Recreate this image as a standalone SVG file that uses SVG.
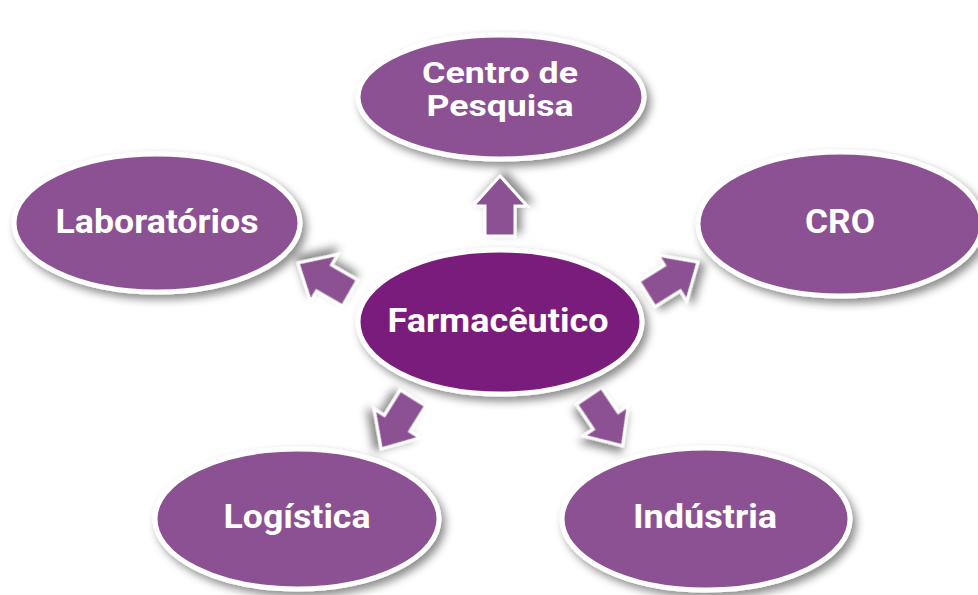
<svg xmlns="http://www.w3.org/2000/svg" width="978" height="595" viewBox="0 0 978 595">
<defs>
<filter id="sh" x="-20%" y="-20%" width="150%" height="150%">
<feDropShadow dx="4" dy="5" stdDeviation="4" flood-color="#000" flood-opacity="0.45"/>
</filter>
<style>
.n{fill:#8c5192;stroke:#fff;stroke-width:5;filter:url(#sh)}
.c{fill:#7a1f7b;stroke:#fff;stroke-width:5;filter:url(#sh)}
.a{fill:#8c5192;stroke:#fff;stroke-width:3;stroke-linejoin:miter;filter:url(#sh)}
.t{font-family:Roboto,"DejaVu Sans",sans-serif;font-weight:bold;font-size:33px;fill:#fff;text-anchor:middle}
.s{font-size:30px}
</style>
<polygon id="arr" points="0,-15 30,-15 30,-27 60,0 30,27 30,15 0,15"/>
</defs>
<rect width="978" height="595" fill="#fff"/>
<g id="connectors">
<use href="#arr" class="a" transform="translate(500,236) rotate(-90)"/>
<use href="#arr" class="a" transform="translate(350,293) rotate(-150)"/>
<use href="#arr" class="a" transform="translate(647,294) rotate(-32)"/>
<use href="#arr" class="a" transform="translate(413,398) rotate(122)"/>
<use href="#arr" class="a" transform="translate(589,396) rotate(56)"/>
</g>
<g id="centro">
<ellipse class="n" cx="501" cy="97" rx="143" ry="62"/>
<text class="t s" x="500" y="83" textLength="156" lengthAdjust="spacingAndGlyphs">Centro de</text>
<text class="t s" x="500" y="116" textLength="147" lengthAdjust="spacingAndGlyphs">Pesquisa</text>
</g>
<g id="laboratorios">
<ellipse class="n" cx="157" cy="223" rx="143" ry="69"/>
<text class="t" x="157" y="233" textLength="203" lengthAdjust="spacingAndGlyphs">Laboratórios</text>
</g>
<g id="cro">
<ellipse class="n" cx="840" cy="224" rx="142" ry="72"/>
<text class="t" x="840" y="233" textLength="70" lengthAdjust="spacingAndGlyphs">CRO</text>
</g>
<g id="farmaceutico">
<ellipse class="c" cx="500" cy="322" rx="142" ry="72"/>
<text class="t" x="498" y="332" textLength="221" lengthAdjust="spacingAndGlyphs">Farmacêutico</text>
</g>
<g id="logistica">
<ellipse class="n" cx="297" cy="519" rx="142" ry="70"/>
<text class="t" x="297" y="528" textLength="147" lengthAdjust="spacingAndGlyphs">Logística</text>
</g>
<g id="industria">
<ellipse class="n" cx="706" cy="519" rx="144" ry="71"/>
<text class="t" x="705" y="528" textLength="144" lengthAdjust="spacingAndGlyphs">Indústria</text>
</g>
</svg>
